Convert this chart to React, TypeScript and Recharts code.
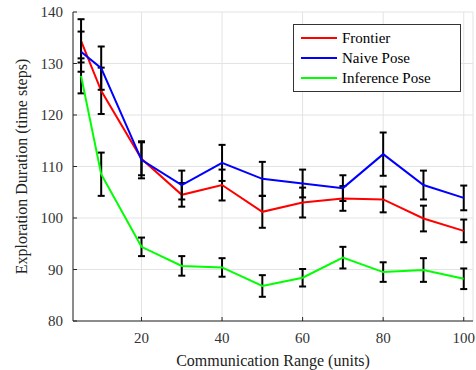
import {
  LineChart,
  Line,
  XAxis,
  YAxis,
  CartesianGrid,
  ErrorBar,
} from 'recharts';

const ranges = [5, 10, 20, 30, 40, 50, 60, 70, 80, 90, 100];

const frontier = [134.4, 124.7, 111.5, 104.5, 106.4, 101.2, 103.0, 103.8, 103.6, 99.9, 97.5];
const frontierErr = [4.2, 4.5, 3.2, 2.3, 3.0, 3.1, 2.9, 2.4, 2.5, 2.5, 2.2];

const naive = [132.3, 129.1, 111.3, 106.4, 110.7, 107.6, 106.7, 105.8, 112.4, 106.4, 103.9];
const naiveErr = [3.9, 4.2, 3.6, 2.8, 3.5, 3.3, 2.7, 2.5, 4.2, 2.8, 2.4];

const inference = [127.6, 108.5, 94.4, 90.7, 90.4, 86.8, 88.4, 92.3, 89.5, 89.9, 88.2];
const inferenceErr = [3.4, 4.2, 1.8, 1.9, 1.8, 2.1, 1.7, 2.1, 1.9, 2.3, 2.0];

const xTicks = [20, 40, 60, 80, 100];
const yTicks = [80, 90, 100, 110, 120, 130, 140];

const SERIES = [
  { key: 'frontier', name: 'Frontier', color: '#ff0000' },
  { key: 'naive', name: 'Naive Pose', color: '#0000ff' },
  { key: 'inference', name: 'Inference Pose', color: '#00ff00' },
];

const data = ranges.map((r, i) => ({
  range: r,
  frontier: frontier[i],
  frontierErr: frontierErr[i],
  naive: naive[i],
  naiveErr: naiveErr[i],
  inference: inference[i],
  inferenceErr: inferenceErr[i],
}));

const FONT = '"Liberation Serif", "Times New Roman", serif';

// boxed legend, top right, drawn over the plot like MATLAB does
function ChartLegend() {
  return (
    <div
      style={{
        position: 'absolute',
        left: 293,
        top: 24,
        width: 166,
        height: 63,
        border: '1px solid #333',
        background: '#fff',
        fontFamily: FONT,
        fontSize: 15,
        color: '#000',
        paddingTop: 3,
        boxSizing: 'content-box',
      }}
    >
      {SERIES.map((s) => (
        <div key={s.key} style={{ display: 'flex', alignItems: 'center', height: 20, paddingLeft: 7 }}>
          <span style={{ display: 'inline-block', width: 36, height: 2, background: s.color, marginRight: 5 }} />
          {s.name}
        </div>
      ))}
    </div>
  );
}

export default function App() {
  return (
    <div style={{ position: 'absolute', left: 0, top: 0, width: 476, height: 370, background: '#fff', fontFamily: FONT }}>
      <LineChart
        width={476}
        height={370}
        data={data}
        margin={{ top: 12, right: 3, left: 0, bottom: 0 }}
        style={{ fontFamily: FONT }}
      >
        <CartesianGrid stroke="#e3e3e3" strokeWidth={1} />
        <XAxis
          dataKey="range"
          type="number"
          domain={[3, 102.3]}
          ticks={xTicks}
          allowDataOverflow
          height={49}
          stroke="#262626"
          tickSize={-4}
          tickMargin={15}
          tick={{ fill: '#333', fontFamily: FONT, fontSize: 15 }}
          label={{
            value: 'Communication Range (units)',
            position: 'center',
            dy: 14.5,
            style: { fill: '#222', fontFamily: FONT, fontSize: 16 },
          }}
        />
        <YAxis
          type="number"
          domain={[80, 140]}
          ticks={yTicks}
          width={73}
          stroke="#262626"
          tickSize={-4}
          tickMargin={14}
          tick={{ fill: '#333', fontFamily: FONT, fontSize: 15 }}
          label={{
            value: 'Exploration Duration (time steps)',
            angle: -90,
            position: 'center',
            dx: -15,
            style: { fill: '#222', fontFamily: FONT, fontSize: 16, textAnchor: 'middle' },
          }}
        />
        {SERIES.map((s) => (
          <Line
            key={s.key}
            type="linear"
            dataKey={s.key}
            name={s.name}
            stroke={s.color}
            strokeWidth={2}
            dot={false}
            activeDot={false}
            isAnimationActive={false}
          >
            <ErrorBar dataKey={`${s.key}Err`} width={3.5} strokeWidth={2} stroke="#000" direction="y" />
          </Line>
        ))}
      </LineChart>
      <ChartLegend />
    </div>
  );
}
